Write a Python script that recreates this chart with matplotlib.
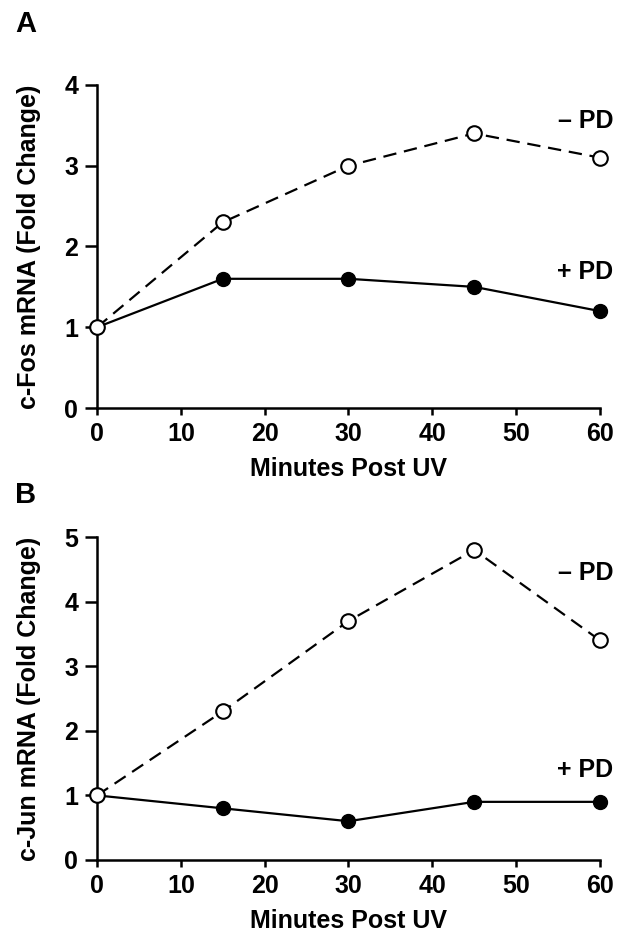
import matplotlib.pyplot as plt
import numpy as np

plt.rcParams['font.family'] = ['Liberation Sans', 'DejaVu Sans']
plt.rcParams['font.weight'] = 'bold'

minutes = [0, 15, 30, 45, 60]

fos_minus_pd = [1.0, 2.3, 3.0, 3.4, 3.1]
fos_plus_pd = [1.0, 1.6, 1.6, 1.5, 1.2]

jun_minus_pd = [1.0, 2.3, 3.7, 4.8, 3.4]
jun_plus_pd = [1.0, 0.8, 0.6, 0.9, 0.9]

fig = plt.figure(figsize=(6.17, 9.41), dpi=100)
axA = fig.add_axes([0.1572, 0.5664, 0.8152, 0.3433])
axB = fig.add_axes([0.1572, 0.0861, 0.8152, 0.3432])


def panel(ax, minus, plus, ymax, ylabel, minus_y, plus_y):
    ax.plot(minutes, plus, '-', color='black', lw=1.6, marker='o', ms=10,
            mfc='black', mec='black', clip_on=False, zorder=3)
    ax.plot(minutes, minus, color='black', lw=1.6, ls=(0, (6, 3.5)), marker='o', ms=10.5,
            mfc='white', mec='black', mew=1.5, clip_on=False, zorder=4)
    ax.set_xlim(0, 60)
    ax.set_ylim(0, ymax)
    ax.set_xticks(range(0, 61, 10))
    ax.set_yticks(range(0, ymax + 1))
    for s in ['top', 'right']:
        ax.spines[s].set_visible(False)
    for s in ['left', 'bottom']:
        ax.spines[s].set_linewidth(1.8)
    ax.tick_params(axis='x', direction='out', length=5, width=1.8, labelsize=18, pad=5)
    ax.tick_params(axis='y', direction='out', length=8.5, width=1.8, labelsize=18, pad=5)
    for lab in ax.get_xticklabels() + ax.get_yticklabels():
        lab.set_fontweight('bold')
    ax.set_ylabel(ylabel, fontsize=18, fontweight='bold', labelpad=17)
    ax.set_xlabel('Minutes Post UV', fontsize=18, fontweight='bold', labelpad=8)
    ax.text(1.026, minus_y, '\u2013 PD', transform=ax.get_yaxis_transform(),
            ha='right', va='center', fontsize=18, fontweight='bold')
    ax.text(1.026, plus_y, '+ PD', transform=ax.get_yaxis_transform(),
            ha='right', va='center', fontsize=18, fontweight='bold')


panel(axA, fos_minus_pd, fos_plus_pd, 4, 'c-Fos mRNA (Fold Change)', 3.55, 1.68)
panel(axB, jun_minus_pd, jun_plus_pd, 5, 'c-Jun mRNA (Fold Change)', 4.45, 1.4)

fig.text(0.024, 0.974, 'A', fontsize=21, fontweight='bold', va='center')
fig.text(0.024, 0.474, 'B', fontsize=21, fontweight='bold', va='center')

fig.savefig('out.png', dpi=100)
